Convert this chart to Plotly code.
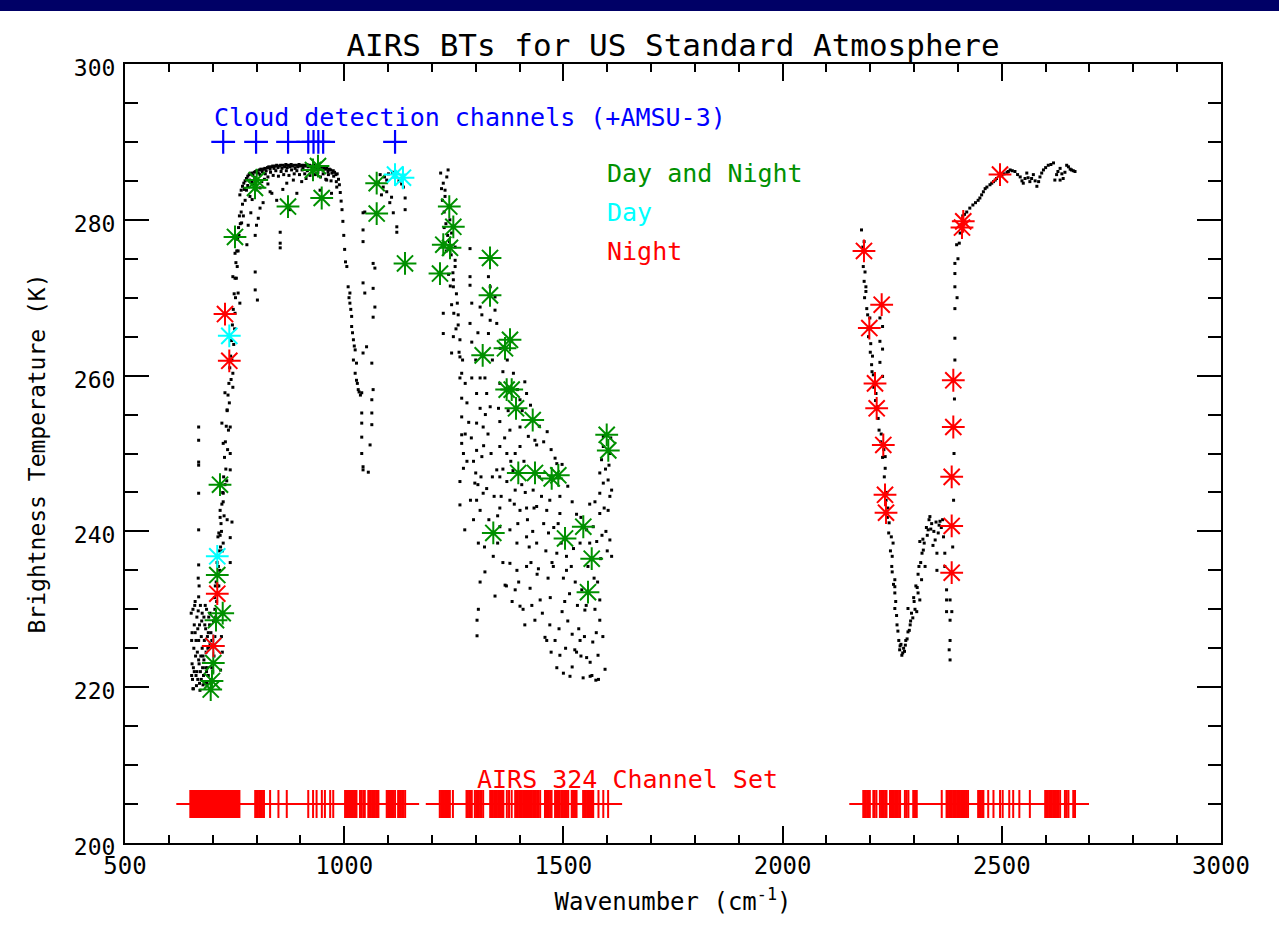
import plotly.graph_objects as go

# ---------------- data (wavenumber cm^-1, brightness temperature K) ----------------
# black dots: simulated AIRS spectrum, read region by region from the picture
co2_band_center = [
    (651, 229.5), (652, 226), (653, 223), (654, 221), (655, 219.8), (656, 222.5), (657, 225), (658, 228),
    (659, 230.5), (660, 227), (661, 224), (662, 221.5), (663, 220.2), (664, 222), (665, 224.5), (666, 227.5),
    (667, 229.8), (668, 226), (669, 223), (670, 220.5), (671, 219.6), (672, 222), (673, 224), (674, 226.5),
    (675, 228.5), (676, 225), (677, 222.5), (678, 220.3), (679, 221.5), (680, 223.5), (681, 226), (682, 228),
    (683, 230.5), (684, 227.5), (685, 224.5), (686, 222), (687, 220.5), (688, 222.5), (689, 225), (690, 227),
    (691, 229), (693, 228), (694, 225.5), (696, 221), (698, 226), (700, 222),
    (668, 253.4), (668, 251.7), (668, 248.9), (668, 248.5), (668, 244.9), (668, 240.2), (668, 235.7),
    (667, 234.0), (669, 233.0), (668, 231.6),
    (652, 221.5), (653, 227), (655, 230), (656, 219.8), (658, 222), (660, 231), (662, 226), (664, 229),
    (666, 221), (668, 223.5), (670, 228), (672, 230.5), (674, 221), (676, 229.5), (678, 224), (680, 229),
    (682, 220.5), (684, 222.5), (686, 230), (688, 226.5), (690, 221.5), (692, 225), (694, 229.5), (696, 227),
    (698, 222.5), (700, 226), (702, 228.5), (704, 231.5), (706, 233),
]
co2_rising_edge = [
    (703, 224), (705, 226.5), (707, 229), (709, 231), (711, 233), (713, 235.5), (715, 237.5), (717, 239.5),
    (719, 241), (721, 243.5), (723, 245), (725, 247), (727, 249.5), (729, 251.5), (731, 253.5), (733, 255.5),
    (735, 257.5), (737, 259), (739, 261), (741, 262.5), (743, 264.5), (745, 266.5), (747, 268.5), (749, 270.5),
    (751, 272.5), (753, 274.5), (755, 276), (757, 277.5), (759, 279), (761, 280.5),
    (712, 239.3), (717, 242.7), (733, 241.5), (724, 244.9), (740, 247.9), (740, 250), (724, 251.3), (740, 253.4),
    (721, 253.9), (733, 255.6), (728, 257.8), (746, 258.5), (746, 260.3), (751, 268), (762, 269.3), (758, 270.6),
    (746, 272.7), (751, 275.7), (724, 243.8), (717, 241.8), (744, 241.2), (714, 239.8), (740, 239.2),
    (724, 238.5), (740, 236), (720, 226.5), (722, 224.5), (718, 222.2),
    (705, 230), (708, 233.5), (710, 236), (712, 236.8), (714, 233), (716, 235), (718, 238), (720, 240),
    (722, 237.5), (726, 242), (728, 246), (730, 248), (732, 246.5), (734, 250.5), (736, 253), (738, 256.5),
    (742, 259.5), (744, 262), (748, 264), (750, 266), (752, 270), (754, 272.5), (756, 274), (758, 276),
    (760, 278), (763, 279.5), (765, 281), (768, 282), (770, 280.5), (774, 282.5), (777, 283.8), (780, 284.4),
]
window_envelope = [
    (762, 283.2), (765, 283.8), (768, 284.3), (771, 284.7), (774, 285.0), (777, 285.3), (780, 285.6), (783, 285.8),
    (786, 285.9), (789, 286.0), (792, 285.7), (795, 286.1), (798, 286.2), (801, 286.3), (804, 286.0), (807, 286.4),
    (810, 286.5), (813, 286.2), (816, 286.5), (819, 286.6), (822, 286.3), (825, 286.7), (828, 286.8), (831, 286.5),
    (834, 286.8), (837, 286.9), (840, 286.6), (843, 286.9), (846, 287.0), (849, 286.7), (852, 286.9), (855, 287.0),
    (858, 286.6), (861, 287.0), (864, 286.8), (867, 287.1), (870, 286.7), (873, 287.0), (876, 286.8), (879, 287.1),
    (882, 286.9), (885, 287.0), (888, 286.6), (891, 287.0), (894, 286.8), (897, 287.1), (900, 286.9), (903, 287.0),
    (906, 286.7), (909, 287.0), (912, 286.9), (915, 287.1), (918, 286.8), (921, 287.0), (924, 286.9), (927, 286.6),
    (930, 287.0), (933, 286.8), (936, 286.9), (939, 286.5), (942, 286.9), (945, 286.7), (948, 286.8), (951, 286.4),
    (954, 286.7), (957, 286.5), (960, 286.6), (963, 286.2), (966, 286.5), (969, 286.4), (972, 286.0), (975, 286.3),
    (978, 286.1), (981, 285.8), (984, 285.9), (987, 285.2), (989, 284.5), (991, 283.5), (993, 282.4), (995, 281.3),
    (997, 279.8), (999, 278.0), (1001, 276.2), (1003, 274.6),
    (772, 283.9), (784, 285.1), (796, 285.4), (808, 285.8), (820, 285.9), (832, 286.1), (844, 286.3), (856, 286.2),
    (868, 286.3), (880, 286.4), (892, 286.3), (904, 286.4), (916, 286.3), (928, 286.2), (940, 286.1), (952, 285.9),
    (964, 285.8), (976, 285.6),
    (785, 283), (790, 284.8), (795, 284.6), (812, 284.9), (818, 285.2), (826, 285.5), (838, 285.7), (850, 285.6),
    (862, 285.8), (874, 285.7), (886, 285.9), (898, 285.8), (910, 285.9), (922, 285.7), (934, 285.8), (946, 285.5),
    (958, 285.2), (970, 285.0), (982, 284.9),
]
window_scatter = [
    (766, 279.6), (778, 276.8), (781, 279.3), (797, 278), (797, 273.3), (797, 271), (802, 269.7), (800, 279.3),
    (804, 280.2), (808, 281.5), (808, 284.1), (815, 282.2), (831, 283.6), (835, 283.4), (846, 282.5), (854, 278.4),
    (854, 277), (854, 276.4), (869, 284.7), (876, 281.3), (884, 285.1), (892, 283.4), (903, 284.9), (945, 283.8),
    (960, 285.1), (971, 283.4), (983, 284.2), (790, 282.6), (787, 280.9), (826, 284.6), (860, 283.9), (913, 285.3),
]
ozone_band = [
    (1006, 274), (1009, 271.4), (1011, 270), (1013, 270.6), (1013, 269.3), (1015, 268.5), (1017, 267.6),
    (1017, 266.3), (1019, 265.5), (1021, 264.6), (1023, 263.8), (1025, 263.3), (1021, 262), (1028, 261.6),
    (1025, 260.3), (1028, 259.4), (1030, 259), (1032, 258.2), (1034, 257.9), (1037, 257.5), (1040, 257.8),
    (1040, 255.2), (1040, 253.9), (1040, 252.1), (1040, 250), (1043, 248.3), (1043, 247.9), (1055, 247.6),
    (1059, 251.1), (1063, 253.7), (1063, 255.2), (1063, 256.9), (1066, 258.2), (1063, 261.6), (1051, 263.7),
    (1043, 262.9), (1066, 267.5), (1070, 268.8), (1066, 271.2), (1047, 270.6), (1043, 271.9), (1070, 273.8),
    (1066, 274.4), (1043, 277.2), (1043, 278.7), (1043, 280.9), (1047, 281),
]
window_1100 = [
    (1082, 285.8), (1085, 283.2), (1089, 284.2), (1097, 283.6), (1097, 285.1), (1104, 282.2), (1108, 282.9),
    (1112, 280.9), (1120, 279.1), (1120, 278.4), (1139, 282.8), (1139, 281.3), (1078, 284.8), (1092, 285.5),
    (1101, 285.9), (1110, 286.1), (1116, 285.5), (1125, 285.0), (1131, 284.6), (1135, 284.2),
]
water_vapour_band = [
    (1237, 286.4), (1234, 285.5), (1226, 284.7), (1230, 283.8), (1230, 283), (1241, 280), (1245, 278.3),
    (1253, 276.5), (1253, 274.8), (1253, 274), (1249, 272.3), (1249, 271.4), (1287, 276.3), (1287, 272.7),
    (1287, 271.6), (1245, 269.1), (1226, 268), (1260, 267.8), (1260, 266.5), (1226, 265.4), (1249, 265),
    (1264, 264.6), (1287, 266.7), (1291, 269.3), (1310, 268.8), (1314, 267.8), (1329, 272.7), (1333, 271.4),
    (1344, 270.1), (1344, 268.4), (1333, 267.1), (1348, 266.7), (1329, 265.4), (1291, 264.3), (1245, 262.9),
    (1264, 262.4), (1268, 260.3), (1264, 259.7), (1291, 259.7), (1310, 259.7), (1321, 259.7), (1268, 257.1),
    (1302, 257.7), (1325, 257.7), (1355, 259), (1386, 260.3), (1412, 259.2), (1416, 257.7), (1401, 256.9),
    (1310, 255.8), (1333, 256), (1352, 255.8), (1268, 254.7), (1302, 253.9), (1317, 253.4), (1355, 254.1),
    (1378, 253), (1401, 253.4), (1420, 252.2), (1435, 251.7), (1439, 251.1), (1268, 252.4), (1268, 251.3),
    (1272, 250), (1302, 250.4), (1314, 249.6), (1355, 250.9), (1371, 250), (1390, 250), (1401, 250.9),
    (1481, 249.4), (1485, 248.7), (1272, 248.1), (1348, 247.9), (1355, 247), (1371, 246.4), (1264, 246.4),
    (1298, 246.2), (1325, 245.5), (1390, 245.3), (1431, 245.3), (1469, 244), (1492, 244.5), (1302, 244),
    (1317, 244.9), (1264, 243.4), (1310, 242.7), (1355, 243), (1378, 244), (1401, 242.7), (1416, 243),
    (1439, 243.2), (1462, 242.7), (1492, 242.3), (1275, 240.2), (1306, 238.5), (1355, 240.6), (1378, 240.2),
    (1394, 238.5), (1416, 239.3), (1439, 238.5), (1466, 239.8), (1485, 237.2), (1507, 236.8), (1340, 236.8),
    (1378, 235.9), (1394, 235), (1416, 235.5), (1443, 235.2), (1477, 235.5), (1507, 235), (1523, 237.8),
    (1538, 238.5), (1576, 238.7), (1606, 238.9), (1610, 236.8), (1568, 240.6), (1583, 242.3), (1602, 242.7),
    (1583, 244.9), (1606, 244.5), (1591, 246.2), (1610, 245.3), (1583, 247.5), (1602, 246.6), (1587, 249.2),
    (1591, 250.9), (1606, 250), (1591, 252.2), (1553, 240.2),
    (1220, 286), (1222, 284), (1224, 282.5), (1228, 281), (1232, 279.5), (1236, 278), (1240, 277.2),
    (1244, 275.5), (1248, 273.2), (1256, 270.5), (1258, 269.3),
    (1424, 232.7), (1447, 231.2), (1469, 228), (1481, 226), (1492, 224.1), (1526, 224.8), (1538, 226),
    (1561, 223.2), (1574, 220.9), (1561, 221.4), (1515, 221.4), (1579, 224.1), (1458, 226.4), (1435, 228.6),
    (1401, 230.4), (1390, 232.5), (1497, 229.7), (1549, 229.9), (1583, 228.6), (1542, 232.5), (1583, 231.2),
    (1367, 233.1), (1344, 231.7), (1321, 234.8), (1306, 230), (1303, 228.6), (1303, 226.6),
    (1485, 222.5), (1500, 221.8), (1520, 222.6), (1545, 221.2), (1565, 221.5), (1580, 221), (1595, 222.3),
]
water_vapour_more = [
    (1228, 279), (1233, 276), (1238, 273), (1242, 271.5), (1250, 268), (1255, 266), (1262, 263), (1270, 262),
    (1276, 259), (1280, 256.5), (1284, 254), (1290, 252), (1295, 249), (1300, 247.5), (1305, 246), (1312, 247),
    (1318, 251), (1322, 255), (1328, 252.5), (1335, 250), (1338, 247), (1342, 244.5), (1350, 242), (1358, 244.5),
    (1362, 248), (1366, 252), (1374, 255.5), (1380, 249), (1385, 247.8), (1388, 243.5), (1396, 241), (1405, 246),
    (1410, 249), (1413, 245), (1418, 241.5), (1422, 238), (1426, 236), (1430, 240), (1433, 243), (1445, 247),
    (1450, 244.5), (1455, 241), (1460, 237.5), (1465, 234), (1470, 231.5), (1474, 236), (1478, 240.5),
    (1488, 241), (1495, 238.5), (1500, 234), (1503, 231), (1510, 228.5), (1514, 232), (1518, 235.5),
    (1527, 233.5), (1532, 230.5), (1535, 227.5), (1540, 224), (1548, 226.5), (1552, 230.5), (1556, 235.5),
    (1560, 238.5), (1570, 234), (1572, 230), (1575, 227), (1578, 233.5), (1585, 236.5), (1588, 239.5),
    (1593, 243), (1597, 240), (1600, 237.5), (1604, 248.5), (1608, 252), (1596, 248), (1350, 238.5),
    (1362, 236), (1370, 233), (1383, 231), (1398, 233.5), (1408, 230), (1412, 228), (1428, 230.5),
    (1440, 234.5), (1452, 229.5), (1462, 226), (1472, 224.5), (1490, 227.5), (1505, 225), (1520, 226.8),
    (1530, 224.5), (1553, 223.8), (1567, 225.8), (1590, 226.5), (1310, 233.5), (1320, 238), (1330, 241.5),
    (1295, 241.5), (1288, 244), (1280, 249), (1276, 252.5), (1300, 262), (1305, 265.5), (1318, 262.5),
    (1338, 262), (1356, 263.5), (1362, 260.5), (1372, 262), (1395, 258.2), (1406, 255.5), (1425, 256.2),
    (1445, 253.5), (1455, 251.5), (1463, 252.8), (1472, 250.5), (1497, 248.6), (1510, 245.8), (1520, 243.8),
    (1530, 242.2), (1540, 241.8), (1560, 243.5), (1572, 243.8),
]
co2_4um_band = [
    (2180, 278.7), (2186, 277.2), (2188, 273.3), (2186, 272.1), (2190, 271.4), (2190, 270.8), (2192, 268.6),
    (2199, 267.4), (2222, 267.4), (2228, 266.3), (2201, 264.1), (2222, 264.4), (2228, 263.4), (2203, 261.4),
    (2222, 261.7), (2207, 260.1), (2228, 259.9), (2213, 257.7), (2234, 248.1), (2234, 249.6), (2243, 241.1),
    (2248, 239.3), (2252, 238.5), (2250, 236.8), (2250, 234.8), (2256, 233.8), (2256, 232.9), (2256, 232.1),
    (2256, 230.1), (2195, 266), (2205, 262.5), (2210, 259), (2216, 256), (2225, 252.5), (2231, 250.5),
    (2238, 245), (2240, 243),
    (2261, 228), (2265, 226), (2267, 224.8), (2272, 224.1), (2276, 225), (2281, 226), (2286, 227.1),
    (2291, 228), (2297, 228.9), (2302, 230), (2313, 231.2),
    (2336, 241.9), (2359, 241.3), (2332, 240.2), (2313, 238.7), (2321, 237.6), (2325, 235.5), (2317, 233.8),
    (2309, 232.1), (2306, 229.7), (2286, 230.1), (2348, 238.9), (2352, 237.2), (2352, 235), (2367, 239.3),
    (2370, 237.2), (2370, 235.5), (2374, 232.5), (2374, 231.2), (2386, 229.7), (2374, 229.7),
    (2270, 225.5), (2278, 224.6), (2284, 226.2), (2289, 227.3), (2294, 229.5), (2299, 231.5), (2304, 233),
    (2309, 234.5), (2315, 236), (2320, 239), (2328, 240.5), (2340, 241), (2345, 240), (2355, 239.8),
    (2362, 240.5),
    (2183, 276.5), (2184, 274), (2187, 270), (2194, 267.8), (2196, 265), (2200, 263), (2204, 260.5),
    (2208, 258.5), (2212, 256.8), (2218, 254.5), (2220, 253), (2224, 251.5), (2228, 249.5), (2232, 247),
    (2236, 244), (2239, 241.8), (2242, 239.8), (2246, 237.5), (2249, 235.5), (2253, 233.2), (2258, 231),
    (2260, 229.2), (2263, 227.2), (2268, 225.3), (2274, 224.4), (2280, 225.4), (2292, 228.5), (2300, 231),
    (2307, 232.8), (2311, 235.5), (2318, 237.2), (2323, 238.5), (2330, 239.5), (2334, 241.5), (2338, 240.3),
    (2343, 238.2), (2350, 241.2), (2357, 240.8), (2365, 241.5),
    (2397, 276.8), (2393, 274.4), (2393, 273.1), (2393, 271.4), (2393, 268.6), (2393, 264.8), (2382, 231.2),
    (2382, 228.6), (2382, 226), (2382, 223.5), (2380, 224.8), (2393, 262), (2392, 257), (2391, 250),
    (2390, 244), (2388, 238),
]
shortwave_window = [
    (2398, 270), (2400, 275), (2403, 277), (2405, 278.3), (2407, 279.4), (2411, 280.5), (2415, 280.7),
    (2420, 281), (2427, 281.5), (2434, 281.9), (2440, 282.2), (2446, 282.5), (2450, 282.8), (2454, 283.2),
    (2458, 283.6), (2462, 284), (2466, 284.2), (2473, 284.5), (2477, 284.7), (2481, 284.9), (2485, 285.1),
    (2488, 285.3), (2496, 285.6), (2500, 285.7), (2505, 285.9), (2512, 286.1), (2515, 286.2), (2519, 286.4),
    (2524, 286.3), (2530, 286.2), (2536, 285.8), (2542, 285.5), (2546, 285.0), (2549, 284.7), (2553, 285.3),
    (2557, 286), (2560, 285.4), (2564, 284.9), (2568, 285.3), (2572, 285.8), (2576, 285.0), (2580, 284.3),
    (2584, 284.9), (2587, 285.5), (2591, 286.0), (2595, 286.4), (2600, 286.7), (2606, 287), (2612, 287.1),
    (2618, 287.3), (2621, 285.1), (2625, 285.8), (2628, 286.2), (2633, 286.6), (2633, 285.1), (2637, 285.9),
    (2640, 285.3), (2644, 286.1), (2648, 287), (2652, 286.8), (2656, 286.5), (2659, 286.4), (2663, 286.3),
    (2667, 286.2),
]

# coloured asterisks: selected channels
day_and_night = [
    (800.4, 285.1), (928.8, 286.4), (871.8, 281.7), (948.7, 282.8), (750.9, 277.8), (716.7, 246.0),
    (1074.1, 284.7), (1074.1, 280.8), (1138.7, 274.4), (1239.7, 281.7), (1248.9, 279.1), (1226.0, 276.8),
    (1241.3, 276.4), (1218.5, 273.1), (1332.6, 275.1), (1332.6, 270.3), (1378.2, 264.6), (1366.8, 263.5),
    (1315.9, 262.6), (1370.6, 258.2), (1382.1, 258.2), (1391.9, 255.8), (1430.0, 254.3), (1598.8, 252.4),
    (1602.4, 250.4), (1397.1, 247.5), (1435.2, 247.5), (1473.3, 246.8), (1488.4, 247.2), (1340.1, 239.8),
    (1503.7, 239.1), (1545.4, 240.6), (1564.6, 236.5), (1556.1, 232.2), (710.5, 234.4), (722.9, 229.5),
    (707.6, 228.6), (701.4, 223.1), (695.5, 219.7), (698.4, 220.8), (796.5, 284.1), (940.2, 286.9),
]
day_only = [(1115.9, 285.8), (1134.1, 285.4), (737.9, 265.1), (710.5, 236.8), (701.4, 225.3)]
night_only = [
    (728.1, 267.9), (737.9, 261.9), (710.5, 232.0), (701.4, 225.3), (2185.6, 276.0), (2226.0, 269.1),
    (2197.8, 266.1), (2210.8, 259.0), (2214.6, 255.8), (2229.7, 251.1), (2233.6, 244.7), (2235.9, 242.4),
    (2389.4, 259.4), (2389.4, 253.4), (2385.7, 247.0), (2385.7, 240.7), (2385.7, 234.7), (2412.1, 279.8),
    (2409.2, 279.0), (2495.9, 285.8),
]

# cloud detection channels (blue +) and AIRS 324 channel set (red +)
cloud_channels_wn = [724, 799, 872, 918, 930, 941, 952, 1116]
cloud_channels_level = 290
channel_set_level = 205
channel_set_wn = [
    649, 651, 653, 655, 657, 659, 661, 663, 665, 667, 669, 671, 673, 675, 677, 679, 681, 683, 685, 687, 689,
    691, 693, 695, 697, 699, 701, 703, 705, 707, 709, 711, 713, 715, 717, 719, 721, 723, 725, 727, 729, 731,
    733, 735, 737, 739, 741, 743, 745, 747, 749, 751, 753, 755, 757, 759, 761,
    797, 800, 803, 806, 809, 812, 815, 817, 831, 850, 869, 918, 929, 937, 949, 956, 968, 975,
    1002, 1005, 1008, 1011, 1014, 1017, 1020, 1023, 1026, 1028, 1036, 1040, 1044, 1047,
    1055, 1058, 1061, 1064, 1067, 1070, 1073, 1076, 1078, 1097, 1100, 1103, 1106, 1109, 1112, 1116,
    1123, 1126, 1129, 1132, 1135, 1139,
    1218, 1221, 1224, 1227, 1230, 1233, 1236, 1239, 1241, 1248, 1279, 1282, 1285, 1288, 1291,
    1298, 1301, 1304, 1307, 1310, 1313, 1317, 1333, 1336, 1339, 1342, 1345, 1348, 1351, 1354, 1357, 1360, 1363,
    1371, 1376, 1382, 1390, 1393, 1396, 1399, 1402, 1405, 1408, 1411, 1414, 1417, 1420, 1423, 1426, 1428,
    1431, 1434, 1437, 1440, 1443, 1447, 1458, 1461, 1464, 1467, 1470, 1473, 1481, 1484, 1487, 1490, 1492,
    1496, 1499, 1502, 1505, 1508, 1511, 1519, 1522, 1525, 1528, 1530,
    1545, 1548, 1551, 1554, 1557, 1560, 1563, 1566, 1568, 1580, 1591, 1602,
    2184, 2187, 2190, 2193, 2196, 2199, 2207, 2210, 2214, 2222, 2225, 2228, 2231, 2234, 2237,
    2245, 2248, 2251, 2254, 2257, 2260, 2263, 2266, 2268, 2279, 2283, 2287, 2298, 2302, 2306,
    2363, 2374, 2377, 2380, 2383, 2386, 2389, 2392, 2395, 2398, 2401, 2404, 2407, 2410, 2413, 2416, 2419, 2423,
    2446, 2449, 2452, 2455, 2458, 2469, 2481, 2496, 2502, 2517, 2526, 2540, 2564,
    2599, 2602, 2605, 2608, 2611, 2614, 2617, 2620, 2623, 2626, 2629, 2633, 2644, 2648, 2652, 2663, 2667,
]

title_text = "AIRS BTs for US Standard Atmosphere"
x_title = "Wavenumber (cm<sup>-1</sup>)"
y_title = "Brightness Temperature (K)"
x_ticks = [500, 1000, 1500, 2000, 2500, 3000]
y_ticks = [200, 220, 240, 260, 280, 300]

# ---------------- figure ----------------
FONT = "DejaVu Sans Mono"
GREEN = "#009000"
CYAN = "#00ffff"
RED = "#ff0000"
BLUE = "#0000ff"

spectrum = (co2_band_center + co2_rising_edge + window_envelope + window_scatter + ozone_band +
            window_1100 + water_vapour_band + water_vapour_more + co2_4um_band + shortwave_window)

fig = go.Figure()
fig.add_trace(go.Scatter(
    x=[p[0] for p in spectrum], y=[p[1] for p in spectrum], mode="markers",
    marker=dict(symbol="square", size=3, color="black", line=dict(width=0)),
    hoverinfo="skip"))

fig.add_trace(go.Scatter(
    x=channel_set_wn, y=[channel_set_level] * len(channel_set_wn), mode="markers",
    marker=dict(symbol="cross-thin", size=20, line=dict(width=2, color=RED), color=RED)))

fig.add_trace(go.Scatter(
    x=cloud_channels_wn, y=[cloud_channels_level] * len(cloud_channels_wn), mode="markers",
    marker=dict(symbol="cross-thin", size=17, line=dict(width=2.2, color=BLUE), color=BLUE)))

for pts, col in [(day_and_night, GREEN), (day_only, CYAN), (night_only, RED)]:
    fig.add_trace(go.Scatter(
        x=[p[0] for p in pts], y=[p[1] for p in pts], mode="markers",
        marker=dict(symbol="asterisk-open", size=19, line=dict(width=2, color=col), color=col)))

annots = [
    ("Cloud detection channels (+AMSU-3)", 698, 293.1, BLUE),
    ("Day and Night", 1595, 285.9, GREEN),
    ("Day", 1595, 280.9, CYAN),
    ("Night", 1595, 275.9, RED),
    ("AIRS 324 Channel Set", 1298, 208.1, RED),
]
for txt, x, y, col in annots:
    fig.add_annotation(x=x, y=y, xref="x", yref="y", text=txt, showarrow=False,
                       xanchor="left", yanchor="middle", font=dict(family=FONT, size=25, color=col))

axis_common = dict(showline=True, linecolor="black", linewidth=2, mirror="allticks",
                   ticks="inside", tickcolor="black", tickwidth=2, showgrid=False, zeroline=False)

fig.update_xaxes(range=[500, 3000], tickvals=x_ticks, ticklen=17, ticklabelstandoff=0,
                 tickfont=dict(family=FONT, size=24, color="black"),
                 minor=dict(dtick=100, ticks="inside", ticklen=8, tickcolor="black", tickwidth=2),
                 title=dict(text=x_title, font=dict(family=FONT, size=24, color="black"), standoff=14),
                 **axis_common)
fig.update_yaxes(range=[200, 300], tickvals=y_ticks, ticklen=24, ticklabelstandoff=3, ticklabelshift=4,
                 tickfont=dict(family=FONT, size=23, color="black"),
                 minor=dict(dtick=5, ticks="inside", ticklen=13, tickcolor="black", tickwidth=2),
                 title=dict(text=y_title, font=dict(family=FONT, size=23, color="black"), standoff=22),
                 **axis_common)

# dark navy band along the top edge of the page
fig.add_shape(type="rect", xref="paper", yref="paper", x0=-0.2, x1=1.2,
              y0=1 + 53 / 779, y1=1.12, fillcolor="#000066", line=dict(width=0), layer="above")

fig.update_layout(
    width=1279, height=939,
    margin=dict(l=125, r=58, t=64, b=96),
    paper_bgcolor="white", plot_bgcolor="white",
    showlegend=False,
    title=dict(text=title_text, x=0.5, xref="paper", y=1 - 45 / 939, yref="container",
               xanchor="center", yanchor="middle", font=dict(family=FONT, size=31, color="black")),
)

fig.write_html("out.html", config={"displayModeBar": False},
               post_script="document.body.style.margin='0px';document.body.style.padding='0px';")
